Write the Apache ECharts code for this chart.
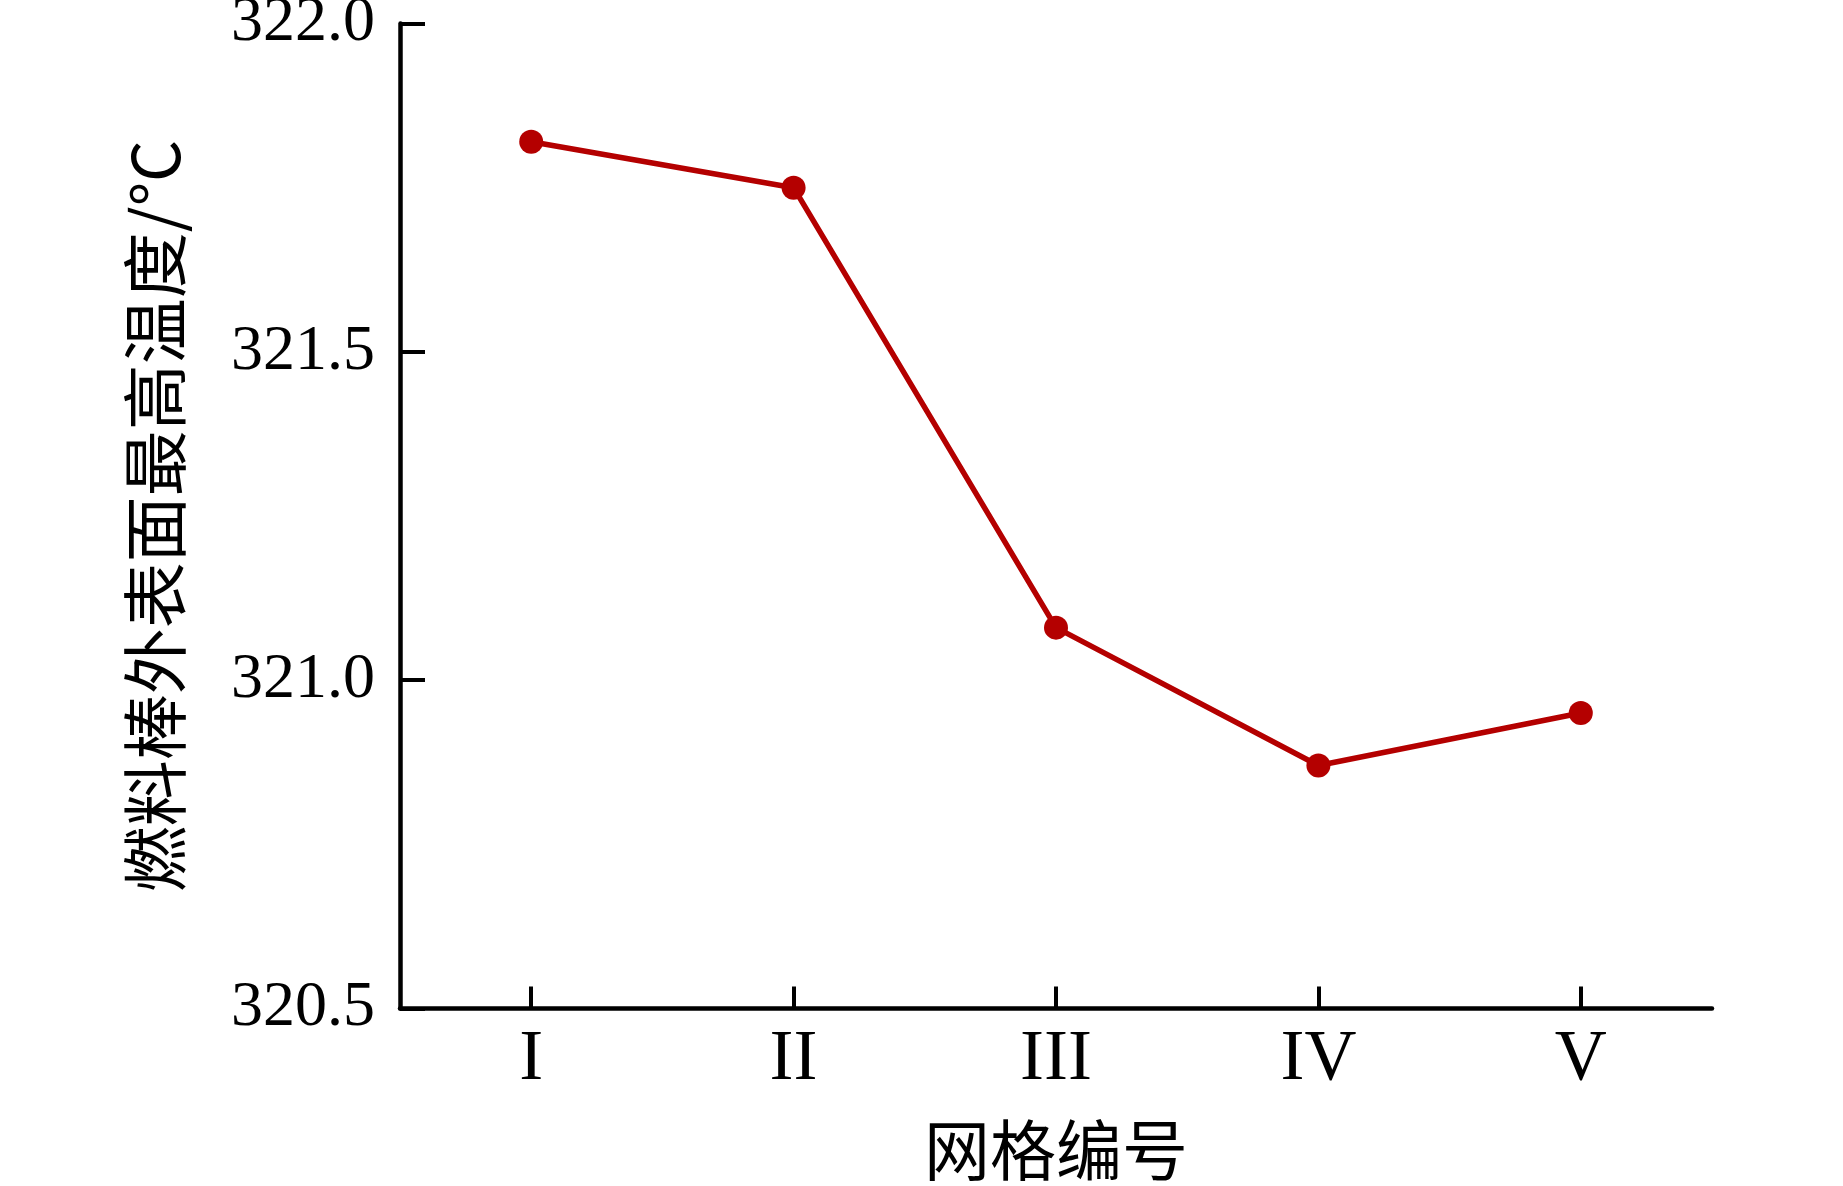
<!DOCTYPE html>
<html>
<head>
<meta charset="utf-8">
<script src="https://cdn.jsdelivr.net/npm/echarts@6/dist/echarts.min.js"></script>
<style>
html,body{margin:0;padding:0;background:#fff;}
#chart{width:1843px;height:1186px;}
</style>
</head>
<body>
<div id="chart"></div>
<script>
const categories = ['I', 'II', 'III', 'IV', 'V'];
const temperatures = [321.82, 321.75, 321.08, 320.87, 320.95];
const xAxisName = '网格编号';
const yAxisName = '燃料棒外表面最高温度/°C';
const yMin = 320.5, yMax = 322.0, yStep = 0.5;

const serif = '"Liberation Serif", "Times New Roman", serif';
const cjk = '"Noto Sans CJK SC", sans-serif';

const chart = echarts.init(document.getElementById('chart'), null, {renderer: 'canvas'});
chart.setOption({
  backgroundColor: '#ffffff',
  animation: false,
  grid: {left: 400, right: 131, top: 23.5, bottom: 177.5, containLabel: false, outerBoundsMode: 'none'},
  xAxis: {
    type: 'category',
    data: categories,
    boundaryGap: true,
    name: xAxisName,
    nameLocation: 'middle',
    nameGap: 108,
    nameTextStyle: {fontFamily: cjk, fontSize: 66, color: '#000'},
    axisLine: {show: true, lineStyle: {color: '#000', width: 4.5}},
    axisTick: {show: true, inside: true, alignWithLabel: true, length: 22, lineStyle: {color: '#000', width: 4}},
    axisLabel: {fontFamily: serif, fontSize: 72, color: '#000', margin: 16},
    splitLine: {show: false}
  },
  yAxis: {
    type: 'value',
    min: yMin, max: yMax, interval: yStep,
    name: yAxisName,
    nameLocation: 'middle',
    nameGap: 212,
    nameRotate: 90,
    nameTextStyle: {fontFamily: cjk, fontSize: 66, color: '#000'},
    axisLine: {show: true, lineStyle: {color: '#000', width: 4.5}},
    axisTick: {show: true, inside: true, length: 25, lineStyle: {color: '#000', width: 4}},
    axisLabel: {fontFamily: serif, fontSize: 64, color: '#000', margin: 25,
      formatter: v => v.toFixed(1)},
    splitLine: {show: false}
  },
  series: [{
    type: 'line',
    data: temperatures,
    symbol: 'circle',
    symbolSize: 24,
    lineStyle: {color: '#b40000', width: 5.5},
    itemStyle: {color: '#b40000'}
  }]
});
</script>
</body>
</html>
